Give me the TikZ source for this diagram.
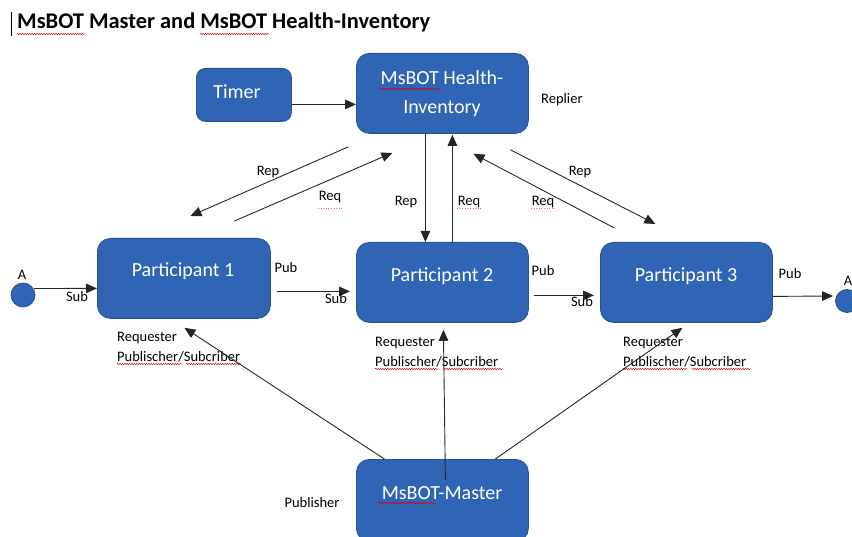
\documentclass[tikz,border=0pt]{standalone}
\usepackage{fontspec}
\setmainfont{Carlito}
\usetikzlibrary{arrows.meta,calc,decorations.pathmorphing}
\definecolor{boxblue}{RGB}{48,100,181}
\definecolor{boxedge}{RGB}{40,80,148}

\begin{document}
\begin{tikzpicture}[x=1pt,y=-1pt,
  box/.style={draw=boxedge, fill=boxblue, line width=0.8pt, rounded corners=13pt,
              anchor=north west, inner sep=0pt, minimum width=172pt, minimum height=80pt},
  boxtext/.style={text=white, font=\fontsize{20}{29}\selectfont, anchor=base, inner sep=0pt},
  lbl/.style={font=\fontsize{14.5}{17}\selectfont, anchor=base, inner sep=0pt},
  lblw/.style={lbl, anchor=base west},
  conn/.style={draw=black!85, line width=0.9pt, -{Triangle[length=11pt,width=9.5pt]}},
  squig/.style={draw=red!85!black, line width=0.45pt, decorate,
                decoration={snake, amplitude=0.7pt, segment length=2.4pt}},
  dotline/.style={draw=red!65, line width=0.6pt, dotted}
]
\useasboundingbox (0,0) rectangle (852,537);

% heading with the text cursor in front of it
\draw[line width=0.8pt] (11,12) -- (11,36);
\node[font=\fontsize{22.4}{27}\selectfont\bfseries, anchor=base west, inner sep=0pt]
  (title) at (17,29) {MsBOT Master and MsBOT Health-Inventory};
\draw[squig] (17,34) -- (85,34);
\draw[squig] (200,34) -- (269,34);

% boxes
\node[box, minimum width=95pt, minimum height=53pt, rounded corners=9pt] (timer) at (196,68) {};
\node[box] (hi) at (356,53) {};
\node[box, minimum width=173pt] (p1) at (97,238) {};
\node[box] (p2) at (356,242) {};
\node[box] (p3) at (600,242) {};
\node[box, minimum height=82pt] (master) at (356,459) {};

% box captions
\node[boxtext] (timertxt) at (237,99) {Timer};
\node[boxtext] (hitxt1) at (442,85) {MsBOT Health-};
\node[boxtext] (hitxt2) at (442,114) {Inventory};
\node[boxtext] (p1txt) at (183,277) {Participant 1};
\node[boxtext] (p2txt) at (442,282) {Participant 2};
\node[boxtext] (p3txt) at (686,282) {Participant 3};
\node[boxtext] (mtxt) at (442,499) {MsBOT-Master};
\draw[squig] (379,89) -- (440,89);
\draw[squig] (378,503) -- (437,503);

% end points A
\node[circle, draw=boxedge, fill=boxblue, line width=0.8pt, minimum size=24pt, inner sep=0pt] (aL) at (23,295) {};
\node[circle, draw=boxedge, fill=boxblue, line width=0.8pt, minimum size=23pt, inner sep=0pt] (aR) at (847,301) {};
\node[lbl] (aLtxt) at (22,280) {A};
\node[lbl] (aRtxt) at (848,286) {A};

% timer trigger
\draw[conn] ($(timer.east)+(0,9.5)$) -- ($(hi.west)+(0,11)$);

% request / reply between the participants and the health inventory
\draw[conn] ($(hi.south)+(-94,13)$) -- ($(p1.north)+(6.5,-22)$);
\draw[conn] ($(p1.north)+(50.5,-17)$) -- ($(hi.south)+(-50,19)$);
\draw[conn] ($(hi.south)+(-17,0)$) -- ($(p2.north)+(-17,0)$);
\draw[conn] ($(p2.north)+(10,0)$) -- ($(hi.south)+(10,1)$);
\draw[conn] ($(p3.north)+(-72,-14)$) -- ($(hi.south)+(31,20)$);
\draw[conn] ($(hi.south)+(68,16)$) -- ($(p3.north)+(-31,-18)$);

\node[lbl] (rep1) at (268,176) {Rep};
\node[lbl] (req1) at (330,201) {Req};
\node[lbl] (rep2) at (406,206) {Rep};
\node[lbl] (req2) at (469,206) {Req};
\node[lbl] (req3) at (543,206) {Req};
\node[lbl] (rep3) at (580,176) {Rep};
\draw[dotline] (318,208) -- (343,208);
\draw[dotline] (457,208) -- (482,208);
\draw[dotline] (531,208) -- (555,208);
\node[lbl, anchor=base west] (replier) at (541,104) {Replier};

% publish / subscribe chain
\draw[conn] ($(aL.center)+(11,-6.5)$) -- ($(p1.west)+(0,10)$);
\draw[conn] ($(p1.east)+(6,13)$) -- ($(p2.west)+(-6,9)$);
\draw[conn] ($(p2.east)+(5,13)$) -- ($(p3.west)+(-6,13)$);
\draw[conn] ($(p3.east)+(0,14)$) -- ($(aR.west)+(-2,-5)$);

\node[lbl] (sub1) at (77,302) {Sub};
\node[lbl] (pub1) at (286,273) {Pub};
\node[lbl] (sub2) at (336,304) {Sub};
\node[lbl] (pub2) at (543,276) {Pub};
\node[lbl] (sub3) at (582,307) {Sub};
\node[lbl] (pub3) at (790,279) {Pub};

% roles of the participants
\node[lblw] (r1a) at (117,342) {Requester};
\node[lblw] (r1b) at (117,362) {Publischer/Subcriber};
\node[lblw] (r2a) at (375,347) {Requester};
\node[lblw] (r2b) at (375,367) {Publischer/Subcriber};
\node[lblw] (r3a) at (623,347) {Requester};
\node[lblw] (r3b) at (623,367) {Publischer/Subcriber};
\draw[squig] (117,364) -- (182,364);
\draw[squig] (186,364) -- (241,364);
\draw[squig] (375,369) -- (438,369);
\draw[squig] (444,369) -- (502,369);
\draw[squig] (623,369) -- (687,369);
\draw[squig] (692,369) -- (750,369);

% master publishes to every participant
\draw[conn] ($(master.north)+(-58,0)$) -- ($(p1.south)+(0.5,9)$);
\draw[conn] ($(master.north)+(3,21)$) -- ($(p2.south)+(1,7)$);
\draw[conn] ($(master.north)+(53,0)$) -- ($(p3.south)+(-4,5)$);
\node[lbl] (publisher) at (312,507) {Publisher};
\end{tikzpicture}
\end{document}
